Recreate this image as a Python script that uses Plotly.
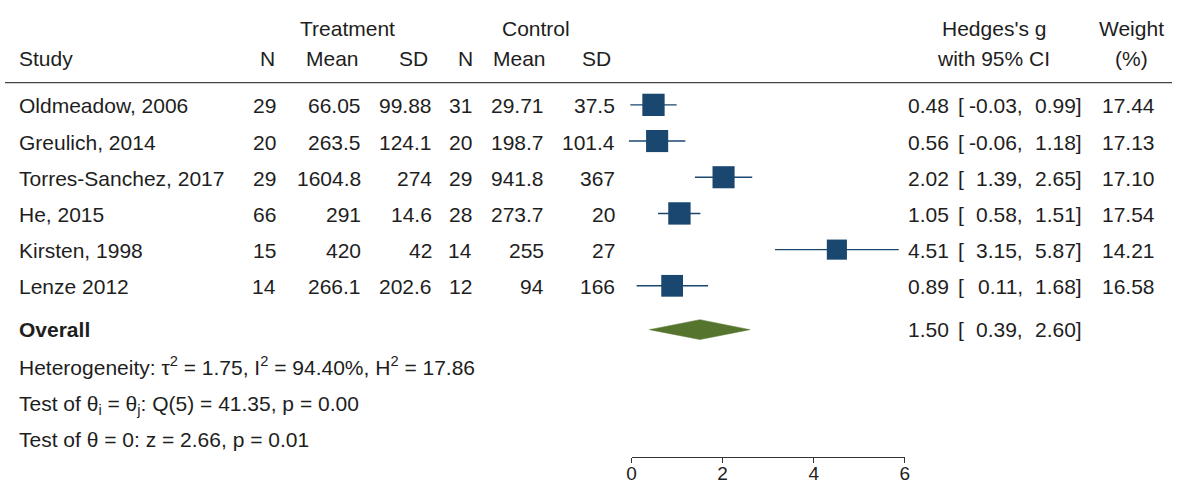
import math
import plotly.graph_objects as go

# ---------------- data ----------------
studies = ["Oldmeadow, 2006", "Greulich, 2014", "Torres-Sanchez, 2017",
           "He, 2015", "Kirsten, 1998", "Lenze 2012"]
n_t = [29, 20, 29, 66, 15, 14]
mean_t = [66.05, 263.5, 1604.8, 291, 420, 266.1]
sd_t = [99.88, 124.1, 274, 14.6, 42, 202.6]
n_c = [31, 20, 29, 28, 14, 12]
mean_c = [29.71, 198.7, 941.8, 273.7, 255, 94]
sd_c = [37.5, 101.4, 367, 20, 27, 166]
hedges_g = [0.48, 0.56, 2.02, 1.05, 4.51, 0.89]
ci_lo = [-0.03, -0.06, 1.39, 0.58, 3.15, 0.11]
ci_hi = [0.99, 1.18, 2.65, 1.51, 5.87, 1.68]
weight = [17.44, 17.13, 17.10, 17.54, 14.21, 16.58]
overall_g, overall_lo, overall_hi = 1.50, 0.39, 2.60
axis_ticks = [0, 2, 4, 6]
stats_lines = [
    "Heterogeneity: τ<sup>2</sup> = 1.75, I<sup>2</sup> = 94.40%, H<sup>2</sup> = 17.86",
    "Test of θ<sub>i</sub> = θ<sub>j</sub>: Q(5) = 41.35, p = 0.00",
    "Test of θ = 0: z = 2.66, p = 0.01",
]

# ---------------- layout geometry ----------------
W, H = 1177, 484
X0_PX, PX_PER_UNIT = 632.0, 45.9        # pixel of g = 0, pixels per unit
ROW0_PX, ROW_PX = 105.3, 36.34          # pixel of first study row, row spacing
AXIS_PX = 459.0                         # pixel row of the axis line

FONT = "Liberation Sans, Arial, Helvetica, sans-serif"
FS = 21
TXT = "#1e1e1e"
NAVY = "#1a476f"
GREEN = "#55752f"


def row(p):
    return (p - ROW0_PX) / ROW_PX


def px(x):
    return x / W


rows = list(range(len(studies)))
overall_row = row(331)
stat_rows = [row(367.5), row(406.5), row(441)]

fig = go.Figure()

# CI lines
xs, ys = [], []
for lo, hi, r in zip(ci_lo, ci_hi, rows):
    xs += [lo, hi, None]
    ys += [r, r, None]
fig.add_trace(go.Scatter(x=xs, y=ys, mode="lines",
                         line=dict(color=NAVY, width=1.4),
                         hoverinfo="skip", showlegend=False))

# weighted squares
fig.add_trace(go.Scatter(
    x=hedges_g, y=rows, mode="markers",
    marker=dict(symbol="square", color=NAVY, opacity=1,
                size=[5.34 * math.sqrt(w) for w in weight],
                line=dict(width=0)),
    showlegend=False, hoverinfo="skip"))

# overall diamond
dh = 10.0 / ROW_PX
fig.add_trace(go.Scatter(
    x=[overall_lo, overall_g, overall_hi, overall_g, overall_lo],
    y=[overall_row, overall_row - dh, overall_row, overall_row + dh, overall_row],
    mode="lines", fill="toself", fillcolor=GREEN,
    line=dict(color=GREEN, width=0.5),
    showlegend=False, hoverinfo="skip"))

# dummy trace for the visible axis subplot
fig.add_trace(go.Scatter(x=[None], y=[None], xaxis="x2", yaxis="y",
                         mode="markers", showlegend=False, hoverinfo="skip"))

ann = []


def add(text, xpx, r, anchor="left", bold=False):
    ann.append(dict(text=f"<b>{text}</b>" if bold else text,
                    x=px(xpx), xref="paper", y=r, yref="y",
                    xanchor=anchor, yanchor="middle", showarrow=False,
                    font=dict(family=FONT, size=FS, color=TXT)))


# headers
hdr1 = row(28.5)
hdr2 = row(58.5)
add("Treatment", 345, hdr1, "center")
add("Control", 536, hdr1, "center")
add("Hedges's g", 997, hdr1, "center")
add("Weight", 1136, hdr1, "center")
add("Study", 12, hdr2)
add("N", 274, hdr2, "right")
add("Mean", 359, hdr2, "right")
add("SD", 429, hdr2, "right")
add("N", 474, hdr2, "right")
add("Mean", 548, hdr2, "right")
add("SD", 613, hdr2, "right")
add("with 95% CI", 997, hdr2, "center")
add("(%)", 1136, hdr2, "center")

# table body
for i, r in enumerate(rows):
    rr = r + 1.0 / ROW_PX
    add(studies[i], 12, rr)
    add(f"{n_t[i]}", 275, rr, "right")
    add(f"{mean_t[i]:g}", 361, rr, "right")
    add(f"{sd_t[i]:g}", 433, rr, "right")
    add(f"{n_c[i]}", 473, rr, "right")
    add(f"{mean_c[i]:g}", 546, rr, "right")
    add(f"{sd_c[i]:g}", 617, rr, "right")
    add(f"{hedges_g[i]:.2f}", 954, rr, "right")
    add("[", 959, rr, "left")
    add(f"{ci_lo[i]:.2f},", 1029, rr, "right")
    add(f"{ci_hi[i]:.2f}]", 1088, rr, "right")
    add(f"{weight[i]:.2f}", 1162, rr, "right")

add("Overall", 12, overall_row, bold=True)
add(f"{overall_g:.2f}", 954, overall_row, "right")
add("[", 959, overall_row, "left")
add(f"{overall_lo:.2f},", 1029, overall_row, "right")
add(f"{overall_hi:.2f}]", 1088, overall_row, "right")

for txt, r in zip(stats_lines, stat_rows):
    add(txt, 12, r)

fig.update_layout(
    width=W, height=H, autosize=False,
    margin=dict(l=0, r=0, t=0, b=0, pad=0),
    paper_bgcolor="white", plot_bgcolor="rgba(0,0,0,0)",
    font=dict(family=FONT, size=FS, color=TXT),
    showlegend=False,
    xaxis=dict(domain=[0, 1], range=[-X0_PX / PX_PER_UNIT, (W - X0_PX) / PX_PER_UNIT],
               visible=False, fixedrange=True),
    yaxis=dict(domain=[(H - AXIS_PX) / H, 1],
               range=[row(AXIS_PX), row(0)], visible=False, fixedrange=True),
    xaxis2=dict(domain=[X0_PX / W, (X0_PX + 6 * PX_PER_UNIT) / W], range=[0, 6],
                anchor="y", showline=True, linecolor="#333", linewidth=1,
                ticks="outside", ticklen=5, tickwidth=1, tickcolor="#333",
                ticklabelstandoff=-6,
                tickvals=axis_ticks, ticktext=[str(t) for t in axis_ticks],
                showgrid=False, zeroline=False, fixedrange=True,
                tickfont=dict(family=FONT, size=19, color=TXT)),
    shapes=[dict(type="line", xref="paper", yref="y", x0=0, x1=1,
                 y0=row(83), y1=row(83), line=dict(color="#444", width=1.2))],
    annotations=ann,
)

fig.write_html("out.html")
